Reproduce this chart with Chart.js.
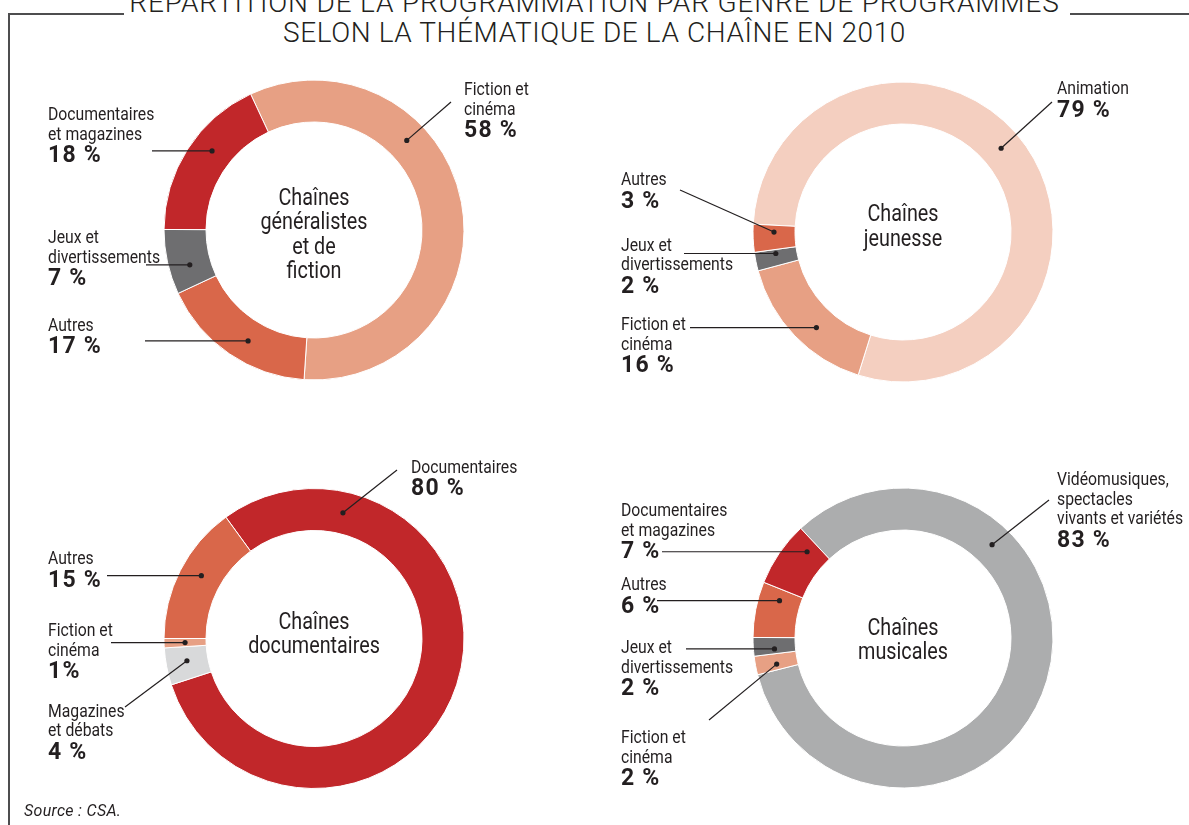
<!DOCTYPE html>
<html lang="fr">
<head>
<meta charset="UTF-8">
<title>Répartition de la programmation par genre de programmes selon la thématique de la chaîne en 2010</title>
<script src="https://cdn.jsdelivr.net/npm/chart.js@4.4.6/dist/chart.umd.min.js"></script>
<style>
  *, *::before, *::after { box-sizing: border-box; margin: 0; padding: 0; }
  html, body { width: 1189px; height: 825px; overflow: hidden; background: #fff; }
  body { position: relative; color: #231f20; font-family: Roboto, 'Noto Sans', sans-serif; }
  .rule { position: absolute; background: #4d4d4f; }
  .title {
    position: absolute; left: 0; width: 1189px; text-align: center;
    font-weight: 300; font-size: 28px; line-height: 28px; letter-spacing: 0.6px; white-space: nowrap;
  }
  canvas { position: absolute; }
  .lbl { position: absolute; white-space: nowrap; }
  .lbl .txt { display: block; font-size: 18px; line-height: 19.5px; transform: scaleX(0.875); transform-origin: left center; }
  .lbl .pct { display: block; font-size: 23px; line-height: 23px; font-weight: 700; letter-spacing: 1.2px; }
  .centre {
    position: absolute; width: 240px; text-align: center; white-space: nowrap;
    font-size: 23px; line-height: 24.5px; transform: scaleX(0.86);
  }
  .source { position: absolute; left: 24px; top: 803px; font-size: 16px; line-height: 16px; font-style: italic; letter-spacing: 0.3px; }
</style>
</head>
<body>
<div class="rule" style="left:8px; top:13px; width:116px; height:1.5px"></div>
<div class="rule" style="left:1070px; top:13px; width:119px; height:1.5px"></div>
<div class="rule" style="left:8px; top:13px; width:1.5px; height:812px"></div>
<div class="title" style="top:-10.6px; letter-spacing:0.85px">RÉPARTITION DE LA PROGRAMMATION PAR GENRE DE PROGRAMMES</div>
<div class="title" style="top:19.4px">SELON LA THÉMATIQUE DE LA CHAÎNE EN 2010</div>

<canvas id="gen"></canvas>
<canvas id="jeu"></canvas>
<canvas id="doc"></canvas>
<canvas id="mus"></canvas>

<div class="source">Source : CSA.</div>

<script>
// ── Data (clockwise order, per chart) ────────────────────────────────────────

const genGenres = ['Fiction et cinéma', 'Autres', 'Jeux et divertissements', 'Documentaires et magazines'];
const genValues = [58, 17, 7, 18];

const jeuGenres = ['Animation', 'Fiction et cinéma', 'Jeux et divertissements', 'Autres'];
const jeuValues = [79, 16, 2, 3];

const docGenres = ['Documentaires', 'Magazines et débats', 'Fiction et cinéma', 'Autres'];
const docValues = [80, 4, 1, 15];

const musGenres = ['Vidéomusiques, spectacles vivants et variétés', 'Fiction et cinéma', 'Jeux et divertissements', 'Autres', 'Documentaires et magazines'];
const musValues = [83, 2, 2, 6, 7];

// ── Styles ───────────────────────────────────────────────────────────────────

const INK = '#231f20';
const colours = {
  'Fiction et cinéma': '#e7a084',
  'Autres': '#d9674a',
  'Jeux et divertissements': '#6e6e70',
  'Documentaires et magazines': '#c1272a',
  'Documentaires': '#c1272a',
  'Animation': '#f4cfc0',
  'Magazines et débats': '#d8d9da',
  'Vidéomusiques, spectacles vivants et variétés': '#acadae',
};

const R = 150.5;          // outer radius incl. border
const TXT_BASE = 15.9;    // baseline offset of first label line
const CTR_BASE = 20.1;    // baseline offset of centre title

// leader: from = start of the line (page px, y null → horizontal), t = where on the arc the dot sits
const layouts = {
  gen: {
    box: { x: 0, y: 40, w: 594, h: 395 }, cx: 314, cy: 230, rotation: 335,
    centre: { lines: ['Chaînes', 'généralistes', 'et de', 'fiction'], y: 205.7 },
    labels: [
      { lines: ['Fiction et', 'cinéma'], x: 464, y: 95, from: [451, 102], t: 0.34 },
      { lines: ['Autres'], x: 48, y: 330.7, from: [145, null], t: 0.44 },
      { lines: ['Jeux et', 'divertissements'], x: 48, y: 243.3, from: [146, null], t: 0.37 },
      { lines: ['Documentaires', 'et magazines'], x: 48, y: 120, from: [152, null], t: 0.58 },
    ],
  },
  jeu: {
    box: { x: 594, y: 40, w: 595, h: 395 }, cx: 903, cy: 232, rotation: 273,
    centre: { lines: ['Chaînes', 'jeunesse'], y: 222.3 },
    labels: [
      { lines: ['Animation'], x: 1057, y: 94.3, from: [1052, 102], t: 0.48 },
      { lines: ['Fiction et', 'cinéma'], x: 621, y: 330, from: [690, null], t: 0.43 },
      { lines: ['Jeux et', 'divertissements'], x: 621, y: 250.7, from: [684, null], t: 0.75 },
      { lines: ['Autres'], x: 621, y: 185, from: [680, 190], t: 0.72 },
    ],
  },
  doc: {
    box: { x: 0, y: 440, w: 594, h: 385 }, cx: 314, cy: 638.5, rotation: 324,
    centre: { lines: ['Chaînes', 'documentaires'], y: 630 },
    labels: [
      { lines: ['Documentaires'], x: 411, y: 472.7, from: [397, 470], t: 0.17 },
      { lines: ['Magazines', 'et débats'], x: 48, y: 716.7, from: [125, 707], t: 0.56 },
      { lines: ['Fiction et', 'cinéma'], x: 48, y: 636, from: [111, null], t: 0.5, sep: '' },
      { lines: ['Autres'], x: 48, y: 564, from: [107, null], t: 0.54 },
    ],
  },
  mus: {
    box: { x: 594, y: 440, w: 595, h: 385 }, cx: 903, cy: 638, rotation: 317,
    centre: { lines: ['Chaînes', 'musicales'], y: 636 },
    labels: [
      { lines: ['Vidéomusiques,', 'spectacles', 'vivants et variétés'], x: 1057, y: 485, from: [1049, 500], t: 0.29 },
      { lines: ['Fiction et', 'cinéma'], x: 621, y: 743.3, from: [709, 720], t: 0.35 },
      { lines: ['Jeux et', 'divertissements'], x: 621, y: 653.3, from: [686, null], t: 0.3 },
      { lines: ['Autres'], x: 621, y: 590, from: [657, null], t: 0.77 },
      { lines: ['Documentaires', 'et magazines'], x: 621, y: 516, from: [662, null], t: 0.8 },
    ],
  },
};

// ── Leader lines with a dot inside each slice ───────────────────────────────

const callouts = {
  id: 'callouts',
  afterDatasetsDraw(chart, args, opts) {
    const { ctx } = chart;
    const arcs = chart.getDatasetMeta(0).data;
    const [ox, oy] = opts.origin;
    ctx.save();
    ctx.strokeStyle = INK;
    ctx.fillStyle = INK;
    ctx.lineWidth = 1.2;
    opts.labels.forEach((lb, i) => {
      const a = arcs[i].getProps(['x', 'y', 'startAngle', 'endAngle', 'innerRadius', 'outerRadius'], true);
      const ang = a.startAngle + (a.endAngle - a.startAngle) * lb.t;
      const r = (a.innerRadius + a.outerRadius) / 2;
      const px = a.x + Math.cos(ang) * r;
      const py = a.y + Math.sin(ang) * r;
      const sx = lb.from[0] - ox;
      const sy = lb.from[1] == null ? py : lb.from[1] - oy;
      ctx.beginPath();
      ctx.moveTo(sx, sy);
      ctx.lineTo(px, py);
      ctx.stroke();
      ctx.beginPath();
      ctx.arc(px, py, 2.6, 0, Math.PI * 2);
      ctx.fill();
    });
    ctx.restore();
  },
};

// ── Build ────────────────────────────────────────────────────────────────────

function addLabel(lb, value) {
  const el = document.createElement('div');
  el.className = 'lbl';
  el.style.left = lb.x + 'px';
  el.style.top = (lb.y - TXT_BASE) + 'px';
  lb.lines.forEach(line => {
    const s = document.createElement('span');
    s.className = 'txt';
    s.textContent = line;
    el.appendChild(s);
  });
  const p = document.createElement('span');
  p.className = 'pct';
  p.textContent = value + (lb.sep ?? ' ') + '%';
  el.appendChild(p);
  document.body.appendChild(el);
}

function addCentre(L) {
  const el = document.createElement('div');
  el.className = 'centre';
  el.style.left = (L.cx - 120) + 'px';
  el.style.top = (L.centre.y - CTR_BASE) + 'px';
  el.innerHTML = L.centre.lines.join('<br>');
  document.body.appendChild(el);
}

function donut(id, genres, values) {
  const L = layouts[id];
  const { box } = L;
  const canvas = document.getElementById(id);
  canvas.width = box.w;
  canvas.height = box.h;
  canvas.style.left = box.x + 'px';
  canvas.style.top = box.y + 'px';

  new Chart(canvas, {
    type: 'doughnut',
    data: {
      labels: genres,
      datasets: [{
        data: values,
        backgroundColor: genres.map(g => colours[g]),
        borderColor: '#ffffff',
        borderWidth: 1,
        hoverOffset: 0,
      }],
    },
    options: {
      responsive: false,
      animation: false,
      rotation: L.rotation,
      cutout: '72%',
      layout: {
        padding: {
          left: L.cx - R - box.x,
          top: L.cy - R - box.y,
          right: box.x + box.w - L.cx - R,
          bottom: box.y + box.h - L.cy - R,
        },
      },
      plugins: {
        legend: { display: false },
        tooltip: { callbacks: { label: c => ` ${c.parsed} %` } },
        callouts: { origin: [box.x, box.y], labels: L.labels },
      },
    },
    plugins: [callouts],
  });

  L.labels.forEach((lb, i) => addLabel(lb, values[i]));
  addCentre(L);
}

donut('gen', genGenres, genValues);
donut('jeu', jeuGenres, jeuValues);
donut('doc', docGenres, docValues);
donut('mus', musGenres, musValues);
</script>
</body>
</html>
